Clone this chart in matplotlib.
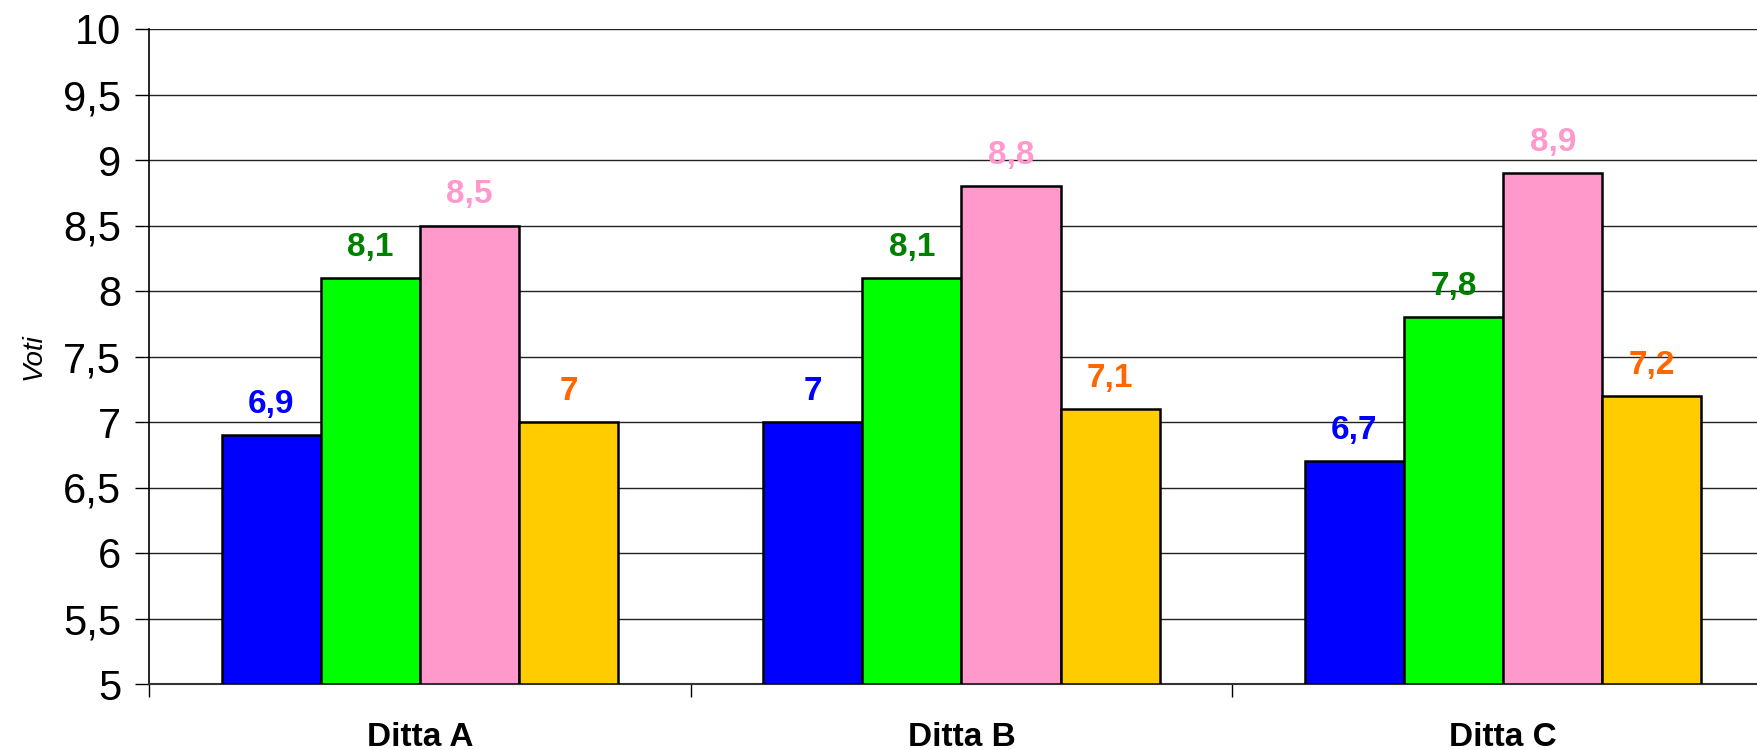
import numpy as np
import matplotlib.pyplot as plt

# Dati
ditte = ["Ditta A", "Ditta B", "Ditta C"]
serie_1 = [6.9, 7.0, 6.7]
serie_2 = [8.1, 8.1, 7.8]
serie_3 = [8.5, 8.8, 8.9]
serie_4 = [7.0, 7.1, 7.2]
y_ticks = [5, 5.5, 6, 6.5, 7, 7.5, 8, 8.5, 9, 9.5, 10]

serie = [serie_1, serie_2, serie_3, serie_4]
colori = ["#0000FF", "#00FF00", "#FF99CC", "#FFCC00"]
colori_etichette = ["#0000FF", "#008000", "#FF99CC", "#FF6600"]

plt.rcParams["font.family"] = ["Liberation Sans", "DejaVu Sans"]

fig = plt.figure(figsize=(17.58, 7.5), dpi=100)
ax = fig.add_axes([149 / 1758, 66 / 750, 1625 / 1758, 655 / 750])

x = np.arange(len(ditte))
w = 0.183
for i, (vals, c, lc) in enumerate(zip(serie, colori, colori_etichette)):
    pos = x + (i - 1.5) * w
    ax.bar(pos, np.array(vals) - 5, bottom=5, width=w, color=c,
           edgecolor="black", linewidth=1.8, zorder=3)
    # etichette dei valori
    for xp, v in zip(pos, vals):
        lab = ("%g" % v).replace(".", ",")
        ax.annotate(lab, (xp, v), xytext=(0, 11), textcoords="offset points",
                    ha="center", va="bottom", color=lc, fontsize=24,
                    fontweight="bold")

ax.set_ylim(5, 10)
ax.set_xlim(-0.5, 2.5)
ax.set_yticks(y_ticks)
ax.set_yticklabels([("%g" % t).replace(".", ",") for t in y_ticks], fontsize=30)
ax.yaxis.grid(True, color="#222222", linewidth=1.0, zorder=0)
ax.set_axisbelow(True)

ax.set_xticks(x)
ax.set_xticklabels(ditte, fontsize=24, fontweight="bold")
ax.set_xticks([-0.5, 0.5, 1.5, 2.5], minor=True)
ax.tick_params(axis="x", which="major", length=0, pad=27)
ax.tick_params(axis="x", which="minor", length=9, width=1, direction="out")
ax.tick_params(axis="y", length=10, width=1, pad=10, direction="out")

ax.set_ylabel("Voti", fontsize=20, fontstyle="italic", labelpad=12)

for s in ["top", "right"]:
    ax.spines[s].set_visible(False)
ax.spines["left"].set_linewidth(1.2)
ax.spines["bottom"].set_linewidth(1.5)
ax.spines["bottom"].set_color("#333333")

fig.savefig("out.png", dpi=100)
